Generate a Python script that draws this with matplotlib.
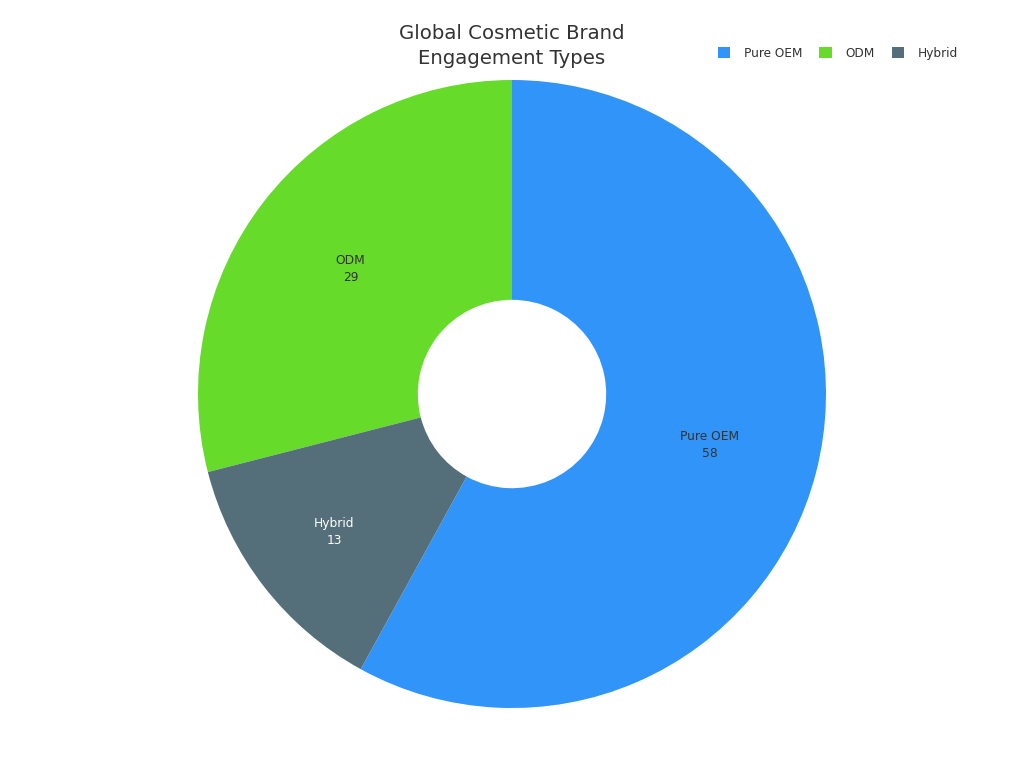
import matplotlib
matplotlib.use("Agg")
import matplotlib.pyplot as plt
from matplotlib.patches import Patch
import math

categories = ["Pure OEM", "ODM", "Hybrid"]
values = [58, 29, 13]
colors = ["#3094F8", "#66DB29", "#546E7A"]
label_colors = ["#333333", "#333333", "#FFFFFF"]
label_radii = [0.65, 0.65, 0.716]

fig = plt.figure(figsize=(10.24, 7.68), dpi=100)
W, H = 1024, 768
cx, cy, R = 512, 394, 314
ax = fig.add_axes([(cx - R) / W, (H - cy - R) / H, 2 * R / W, 2 * R / H])

start = 90 - 360 * values[0] / sum(values)
wedges, _ = ax.pie(values, colors=colors, startangle=start, counterclock=True,
                   radius=1.0, wedgeprops=dict(width=0.7, linewidth=0))
ax.set_xlim(-1, 1)
ax.set_ylim(-1, 1)
ax.set_aspect("equal")
ax.axis("off")

total = sum(values)
ang = start
for cat, v, lc, r in zip(categories, values, label_colors, label_radii):
    mid = ang + 360 * v / total / 2
    ang += 360 * v / total
    x = r * math.cos(math.radians(mid))
    y = r * math.sin(math.radians(mid))
    ax.text(x, y, f"{cat}\n{v}", ha="center", va="center", fontsize=8.8,
            color=lc, linespacing=1.35)

fig.text(0.5, 1 - 46 / H, "Global Cosmetic Brand\nEngagement Types", ha="center",
         va="center", fontsize=14.2, color="#333333", linespacing=1.42)

handles = [Patch(facecolor=c, edgecolor="none") for c in colors]
fig.legend(handles, categories, loc="center", bbox_to_anchor=(838 / W, 1 - 53.5 / H),
           ncol=3, frameon=False, fontsize=8.7, handlelength=1.0, handleheight=1.0,
           handletextpad=1.15, columnspacing=1.45, labelcolor="#333333")

fig.savefig("out.png", dpi=100, facecolor="white")
